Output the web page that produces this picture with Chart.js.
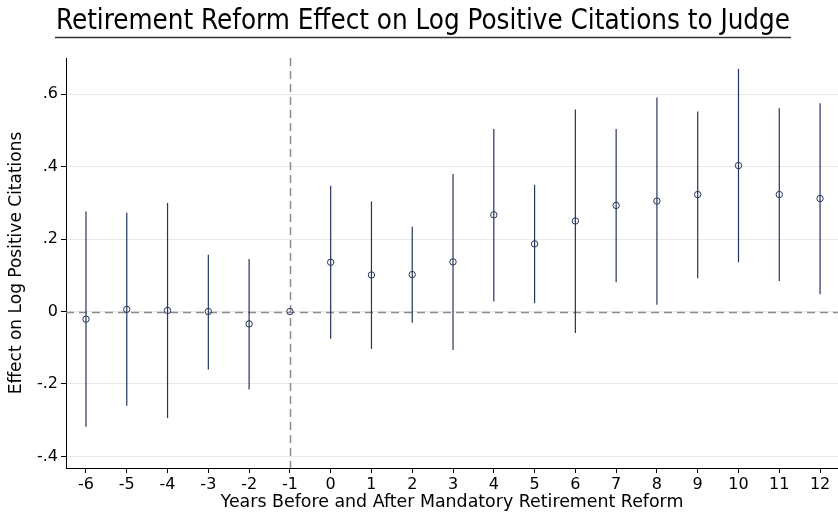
<!DOCTYPE html>
<html>
<head>
<meta charset="utf-8">
<script src="https://cdn.jsdelivr.net/npm/chart.js@4/dist/chart.umd.min.js"></script>
<style>
  html, body { margin: 0; padding: 0; background: #fff; }
  #wrap { width: 838px; height: 513px; }
</style>
</head>
<body>
<div id="wrap"><canvas id="chart"></canvas></div>
<script>
// --- data ---
const years  = [-6, -5, -4, -3, -2, -1, 0, 1, 2, 3, 4, 5, 6, 7, 8, 9, 10, 11, 12];
const coef   = [-0.021, 0.006, 0.003, 0.000, -0.034, 0.000, 0.136, 0.101, 0.102, 0.137, 0.267, 0.187, 0.250, 0.293, 0.305, 0.323, 0.403, 0.323, 0.312];
const ciLow  = [-0.318, -0.260, -0.294, -0.160, -0.215, null, -0.075, -0.103, -0.031, -0.106, 0.028, 0.023, -0.059, 0.081, 0.019, 0.092, 0.136, 0.084, 0.048];
const ciHigh = [0.276, 0.273, 0.300, 0.157, 0.145, null, 0.347, 0.304, 0.234, 0.380, 0.504, 0.350, 0.558, 0.504, 0.591, 0.552, 0.670, 0.561, 0.575];
const yTicks = [-0.4, -0.2, 0, 0.2, 0.4, 0.6];
const refYear = -1;

const titleText = 'Retirement Reform Effect on Log Positive Citations to Judge';
const xTitle = 'Years Before and After Mandatory Retirement Reform';
const yTitle = 'Effect on Log Positive Citations';

const navy = '#26345e';
const refGray = '#8c8c8c';
const titleFont = '27.5px "DejaVu Sans Condensed"';

function fmtTick(v) {
    if (Math.abs(v) < 1e-9) return '0';
    return v.toFixed(1).replace('0.', '.');
}

// CI spikes + dashed reference lines, under the markers
const ciPlugin = {
    id: 'ciPlugin',
    beforeDatasetsDraw(chart) {
        const { ctx, chartArea: a, scales: { x, y } } = chart;
        ctx.save();
        ctx.strokeStyle = refGray;
        ctx.lineWidth = 1.5;
        ctx.setLineDash([8, 5]);
        const y0 = Math.round(y.getPixelForValue(0)) + 0.5;
        ctx.beginPath();
        ctx.moveTo(a.left, y0);
        ctx.lineTo(a.right, y0);
        ctx.stroke();
        const xr = Math.round(x.getPixelForValue(refYear)) + 0.5;
        ctx.beginPath();
        ctx.moveTo(xr, a.top);
        ctx.lineTo(xr, a.bottom);
        ctx.stroke();
        ctx.setLineDash([]);

        ctx.strokeStyle = navy;
        ctx.lineWidth = 1.2;
        years.forEach((yr, i) => {
            if (ciLow[i] == null) return;
            const px = x.getPixelForValue(yr);
            ctx.beginPath();
            ctx.moveTo(px, y.getPixelForValue(ciLow[i]));
            ctx.lineTo(px, y.getPixelForValue(ciHigh[i]));
            ctx.stroke();
        });
        ctx.restore();
    },
    afterDraw(chart) {
        const { ctx, chartArea: a } = chart;
        ctx.save();
        // title + underline (drawn here so it can sit a bit right of centre, as in the original)
        ctx.font = titleFont;
        const w = ctx.measureText(titleText).width;
        const cx = 423;
        ctx.fillStyle = '#000';
        ctx.textAlign = 'center';
        ctx.textBaseline = 'alphabetic';
        ctx.fillText(titleText, cx, 29);
        ctx.strokeStyle = '#333';
        ctx.lineWidth = 1.5;
        ctx.beginPath();
        ctx.moveTo(cx - w / 2 - 1, 37.5);
        ctx.lineTo(cx + w / 2 + 1, 37.5);
        ctx.stroke();
        // y axis title
        ctx.font = '17px "DejaVu Sans"';
        ctx.textBaseline = 'middle';
        ctx.translate(17, (a.top + a.bottom) / 2);
        ctx.rotate(-Math.PI / 2);
        ctx.fillText(yTitle, 0, 0);
        ctx.restore();
    }
};

new Chart(document.getElementById('chart'), {
    type: 'scatter',
    data: {
        datasets: [{
            data: years.map((yr, i) => ({ x: yr, y: coef[i] })),
            pointStyle: 'circle',
            pointRadius: 3.2,
            pointBorderWidth: 1,
            pointBorderColor: navy,
            pointBackgroundColor: 'rgba(255,255,255,0)'
        }]
    },
    options: {
        responsive: true,
        maintainAspectRatio: false,
        animation: false,
        layout: { autoPadding: false, padding: { left: 0, right: 0, top: 58, bottom: 0 } },
        plugins: {
            legend: { display: false },
            tooltip: { enabled: false },
            title: { display: false }
        },
        scales: {
            x: {
                type: 'linear',
                min: -6.49,
                max: 12.44,
                afterBuildTicks: s => { s.ticks = years.map(v => ({ value: v })); },
                afterFit: s => { s.height = 45; s.paddingLeft = 0; s.paddingRight = 0; },
                grid: { drawOnChartArea: false, tickColor: '#000', tickLength: 5 },
                border: { color: '#000', width: 1 },
                ticks: { color: '#000', font: { family: 'DejaVu Sans', size: 16 }, padding: 2, maxRotation: 0, autoSkip: false },
                title: {
                    display: true,
                    text: xTitle,
                    color: '#000',
                    font: { family: 'DejaVu Sans', size: 17.4 },
                    padding: { top: 0, bottom: 0 }
                }
            },
            y: {
                min: -0.432,
                max: 0.70,
                afterBuildTicks: s => { s.ticks = yTicks.map(v => ({ value: v })); },
                afterFit: s => { s.width = 66; s.paddingTop = 0; s.paddingBottom = 0; },
                grid: { color: '#e9e9e9', tickColor: '#000', tickLength: 5 },
                border: { color: '#000', width: 1 },
                ticks: { color: '#000', font: { family: 'DejaVu Sans', size: 16 }, padding: 3, callback: v => fmtTick(v) }
            }
        }
    },
    plugins: [ciPlugin]
});
</script>
</body>
</html>
